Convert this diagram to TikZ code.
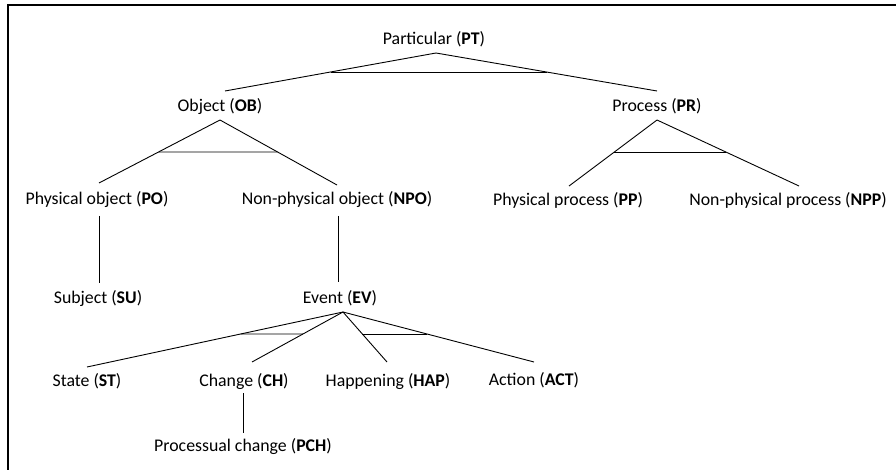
\documentclass[tikz,border=0pt]{standalone}
\usepackage{fontspec}
\setmainfont{Carlito}
\usetikzlibrary{calc}
\begin{document}
\begin{tikzpicture}[x=1pt,y=-1pt,
  lbl/.style={anchor=base,inner sep=0pt,font=\fontsize{17.8}{21}\selectfont},
  conn/.style={line width=0.9pt,black},
  frame/.style={line width=1.3pt,black}]
\useasboundingbox (0,0) rectangle (896,470);
\draw[frame] (8,470) -- (8,5) -- (896,5);
% nodes
\node[lbl] (pt)  at (434,45)  {Particular (\textbf{PT})};
\node[lbl] (ob)  at (220,112) {Object (\textbf{OB})};
\node[lbl] (pr)  at (657,112) {Process (\textbf{PR})};
\node[lbl] (po)  at (97,205)  {Physical object (\textbf{PO})};
\node[lbl] (npo) at (337,205) {Non-physical object (\textbf{NPO})};
\node[lbl] (pp)  at (568,206) {Physical process (\textbf{PP})};
\node[lbl] (npp) at (788,206) {Non-physical process (\textbf{NPP})};
\node[lbl] (su)  at (98,303)  {Subject (\textbf{SU})};
\node[lbl] (ev)  at (340,303) {Event (\textbf{EV})};
\node[lbl] (st)  at (87,386)  {State (\textbf{ST})};
\node[lbl] (ch)  at (244,386) {Change (\textbf{CH})};
\node[lbl] (hap) at (388,386) {Happening (\textbf{HAP})};
\node[lbl] (act) at (534,385) {Action (\textbf{ACT})};
\node[lbl] (pch) at (243,451) {Processual change (\textbf{PCH})};
% connector end points
\coordinate (pt-s)  at ($(pt.base)+(2,8)$);
\coordinate (ob-s)  at ($(ob.base)+(0,8)$);
\coordinate (pr-s)  at ($(pr.base)+(0,8)$);
\coordinate (po-s)  at ($(po.base)+(2,11)$);
\coordinate (npo-s) at ($(npo.base)+(1,11)$);
\coordinate (ev-s)  at ($(ev.base)+(3,9)$);
\coordinate (ch-s)  at ($(ch.base)+(-1,7)$);
\coordinate (ob-n)  at ($(ob.base)+(5,-21)$);
\coordinate (pr-n)  at ($(pr.base)+(0,-21)$);
\coordinate (po-n)  at ($(po.base)+(2,-22)$);
\coordinate (npo-n) at ($(npo.base)+(0,-20)$);
\coordinate (pp-n)  at ($(pp.base)+(1,-20)$);
\coordinate (npp-n) at ($(npp.base)+(11,-20)$);
\coordinate (su-n)  at ($(su.base)+(1,-20)$);
\coordinate (ev-n)  at ($(ev.base)+(-2,-21)$);
\coordinate (st-n)  at ($(st.base)+(0,-19)$);
\coordinate (ch-n)  at ($(ch.base)+(8,-24)$);
\coordinate (hap-n) at ($(hap.base)+(-1,-24)$);
\coordinate (act-n) at ($(act.base)+(0,-23)$);
\coordinate (pch-n) at ($(pch.base)+(0,-18)$);
% connectors
\draw[conn] (pt-s) -- (ob-n);
\draw[conn] (pt-s) -- (pr-n);
\draw[conn] ($(pt-s)!0.5!(ob-n)$) -- ($(pt-s)!0.5!(pr-n)$);
\draw[conn] (ob-s) -- (po-n);
\draw[conn] (ob-s) -- (npo-n);
\draw[conn] ($(ob-s)!0.508!(po-n)$) -- ($(ob-s)!0.492!(npo-n)$);
\draw[conn] (pr-s) -- (pp-n);
\draw[conn] (pr-s) -- (npp-n);
\draw[conn] ($(pr-s)!0.485!(pp-n)$) -- ($(pr-s)!0.485!(npp-n)$);
\draw[conn] (po-s) -- (su-n);
\draw[conn] (npo-s) -- (ev-n);
\draw[conn] (ev-s) -- (st-n);
\draw[conn] (ev-s) -- (ch-n);
\draw[conn] (ev-s) -- (hap-n);
\draw[conn] (ev-s) -- (act-n);
\draw[conn] ($(ev-s)!0.4!(st-n)$) -- ($(ev-s)!0.44!(ch-n)$);
\draw[conn] ($(ev-s)!0.44!(hap-n)$) -- ($(ev-s)!0.44!(act-n)$);
\draw[conn] (ch-s) -- (pch-n);
\end{tikzpicture}
\end{document}
